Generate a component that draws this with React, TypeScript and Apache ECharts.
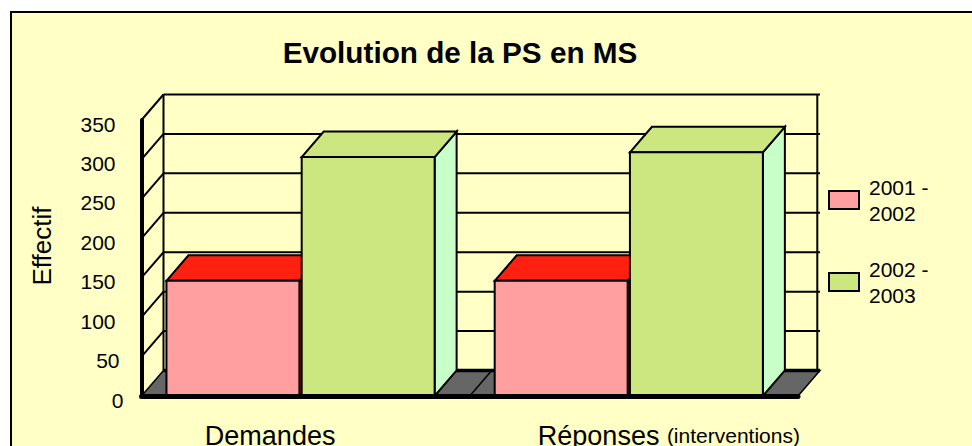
import React, { useEffect, useRef } from "react";
import * as echarts from "echarts";

const categories = ["Demandes", "Réponses"];
const categorySuffix = ["", "(interventions)"];
const seriesNames = ["2001 - 2002", "2002 - 2003"];
const values2001 = [146, 146];
const values2002 = [303, 309];
const yTicks = [0, 50, 100, 150, 200, 250, 300, 350];

const BG = "#FFFFC6";
const DX = 22;
const DY = 25.5;

function barItem(front: string, top: string, side: string, offsetFrac: number) {
  return (params: any, api: any) => {
    const cat = api.value(0);
    const v = api.value(1);
    const base = api.coord([cat, 0]);
    const tip = api.coord([cat, v]);
    const band = api.size([1, 0])[0];
    const w = band * 0.405;
    const x0 = base[0] + band * offsetFrac;
    const x1 = x0 + w;
    const y0 = base[1];
    const y1 = tip[1];
    const stroke = { stroke: "#000", lineWidth: 2 };
    return {
      type: "group",
      children: [
        {
          type: "polygon",
          shape: { points: [[x1, y1], [x1 + DX, y1 - DY], [x1 + DX, y0 - DY], [x1, y0]] },
          style: { fill: side, ...stroke },
        },
        {
          type: "polygon",
          shape: { points: [[x0, y1], [x0 + DX, y1 - DY], [x1 + DX, y1 - DY], [x1, y1]] },
          style: { fill: top, ...stroke },
        },
        {
          type: "rect",
          shape: { x: x0, y: y1, width: w, height: y0 - y1 },
          style: { fill: front, ...stroke },
        },
      ],
    };
  };
}

function frameItem(params: any, api: any) {
  const v = api.value(0);
  const cs = params.coordSys;
  const y = api.coord([0, v])[1];
  const xL = cs.x;
  const xB = xL + DX;
  const xE = cs.x + cs.width;
  const xR = xE + DX;
  const xMid = cs.x + cs.width / 2;
  const children: any[] = [];
  if (v === 0) {
    children.push({
      type: "polygon",
      shape: { points: [[xL, y], [xB, y - DY], [xR, y - DY], [xE, y]] },
      style: { fill: "#666666", stroke: "#000", lineWidth: 1.5 },
    });
    children.push({
      type: "line",
      shape: { x1: xMid, y1: y, x2: xMid + DX, y2: y - DY },
      style: { stroke: "#000", lineWidth: 1.5 },
    });
    children.push({
      type: "line",
      shape: { x1: xB, y1: y - DY, x2: xR, y2: y - DY },
      style: { stroke: "#000", lineWidth: 3.5 },
    });
  } else {
    children.push({
      type: "line",
      shape: { x1: xB, y1: y - DY, x2: xR, y2: y - DY },
      style: { stroke: "#000", lineWidth: 2 },
    });
    children.push({
      type: "line",
      shape: { x1: xL, y1: y, x2: xB, y2: y - DY },
      style: { stroke: "#000", lineWidth: 2 },
    });
  }
  if (v === 350) {
    children.push({
      type: "line",
      shape: { x1: xB, y1: y - DY, x2: xB, y2: cs.y + cs.height - DY },
      style: { stroke: "#000", lineWidth: 2 },
    });
    children.push({
      type: "line",
      shape: { x1: xR - 2.7, y1: y - DY, x2: xR - 2.7, y2: cs.y + cs.height - DY },
      style: { stroke: "#000", lineWidth: 2 },
    });
  }
  return { type: "group", children };
}

export default function App() {
  const ref = useRef<HTMLDivElement>(null);
  useEffect(() => {
    const chart = echarts.init(ref.current!, undefined, { renderer: "svg" });
    const font = "'Liberation Sans', Arial, sans-serif";
    chart.setOption({
      animation: false,
      backgroundColor: "#FFFFFF",
      textStyle: { fontFamily: font, color: "#000" },
      title: {
        text: "Evolution de la PS en MS",
        left: 460,
        top: 37,
        padding: 0,
        textAlign: "center",
        textStyle: { fontFamily: font, fontWeight: "bold", fontSize: 29.7, color: "#000" },
      },
      graphic: [
        {
          type: "rect",
          z: -10,
          silent: true,
          shape: { x: 11, y: 12, width: 1000, height: 480 },
          style: { fill: BG, stroke: "#000", lineWidth: 2 },
        },
      ],
      legend: {
        orient: "vertical",
        left: 828,
        top: 172,
        padding: 0,
        itemWidth: 30,
        itemHeight: 18,
        itemGap: 26,
        selectedMode: false,
        formatter: (n: string) => n.replace(" - ", " -\n"),
        textStyle: { fontFamily: font, fontSize: 21, lineHeight: 26, color: "#000", padding: [4, 0, 0, 5] },
        data: [
          { name: seriesNames[0], icon: "rect", itemStyle: { color: "#FF9F9F", borderColor: "#000", borderWidth: 2 } },
          { name: seriesNames[1], icon: "rect", itemStyle: { color: "#CCE680", borderColor: "#000", borderWidth: 2 } },
        ],
      },
      grid: { left: 141.5, top: 120, width: 656.5, height: 276, containLabel: false, outerBoundsMode: "none" },
      xAxis: {
        type: "category",
        data: categories,
        z: 10,
        axisLine: { show: true, lineStyle: { color: "#000", width: 5 } },
        axisTick: { show: false },
        axisLabel: {
          margin: 26,
          interval: 0,
          hideOverlap: false,
          color: "#000",
          fontFamily: font,
          fontSize: 27,
          formatter: (v: string, i: number) =>
            categorySuffix[i] ? `{b|${v}} {s|${categorySuffix[i]}}` : `{a|${v}}`,
          rich: {
            a: { fontSize: 27, fontFamily: font, padding: [0, 71, 0, 0] },
            b: { fontSize: 27, fontFamily: font, padding: [0, 0, 0, 70] },
            s: { fontSize: 21, fontFamily: font },
          },
        },
      },
      yAxis: {
        type: "value",
        min: 0,
        max: 350,
        interval: 50,
        z: 10,
        name: "Effectif",
        nameLocation: "middle",
        nameGap: 87,
        nameTextStyle: { fontFamily: font, fontSize: 26, color: "#000", padding: [0, 0, 0, 24] },
        splitLine: { show: false },
        axisTick: { show: false },
        axisLine: { show: true, lineStyle: { color: "#000", width: 4 } },
        axisLabel: {
          margin: 18,
          hideOverlap: false,
          color: "#000",
          fontFamily: font,
          fontSize: 21,
          formatter: (v: number) => (v === 0 ? `{z|${v}}` : v === 50 ? `{m|${v}}` : `{n|${v}}`),
          rich: {
            z: { fontSize: 21, fontFamily: font, padding: [9, 0, 0, 0] },
            m: { fontSize: 21, fontFamily: font, padding: [8, 4, 0, 0] },
            n: { fontSize: 21, fontFamily: font, padding: [8, 8, 0, 0] },
          },
        },
      },
      series: [
        {
          type: "custom",
          name: "frame",
          z: 1,
          clip: false,
          silent: true,
          coordinateSystem: "cartesian2d",
          encode: { y: 0 },
          data: yTicks.map((v) => [v]),
          renderItem: frameItem,
        },
        {
          type: "custom",
          name: seriesNames[0],
          z: 2,
          clip: false,
          encode: { x: 0, y: 1 },
          data: values2001.map((v, i) => [i, v]),
          renderItem: barItem("#FF9F9F", "#FF2010", "#FF2010", -0.424),
        },
        {
          type: "custom",
          name: seriesNames[1],
          z: 3,
          clip: false,
          encode: { x: 0, y: 1 },
          data: values2002.map((v, i) => [i, v]),
          renderItem: barItem("#CCE680", "#CCE680", "#C8FFC8", -0.012),
        },
      ],
    });
    return () => chart.dispose();
  }, []);
  return <div ref={ref} style={{ position: "fixed", left: 0, top: 0, width: 972, height: 446 }} />;
}
